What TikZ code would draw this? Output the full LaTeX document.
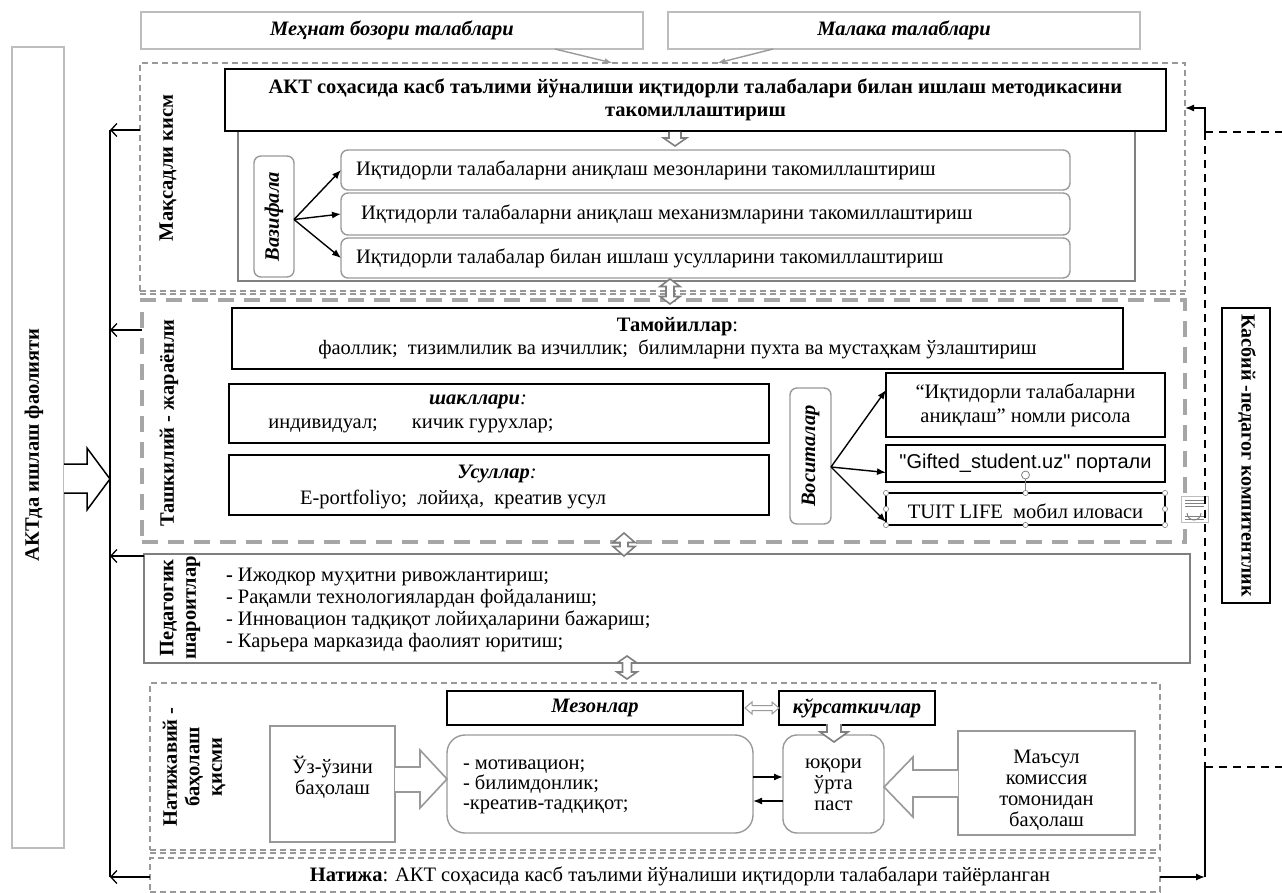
\documentclass[tikz,border=0pt]{standalone}
\usepackage{fontspec}
\setmainfont{Liberation Serif}
\newfontfamily\arialf{Liberation Sans}
\usetikzlibrary{arrows.meta}
\definecolor{lgray}{HTML}{BDBDBD}
\definecolor{mgray}{HTML}{A6A6A6}
\definecolor{dgray}{HTML}{7F7F7F}
\definecolor{hgray}{HTML}{999999}
\begin{document}
\begin{tikzpicture}[x=1pt,y=-1pt,
  every node/.style={inner sep=0pt, outer sep=0pt, font=\fontsize{20.5}{22}\selectfont},
  wh/.style 2 args={minimum width=#1pt, minimum height=#2pt},
  thinbox/.style={draw=lgray, line width=1.5pt},
  blackbox/.style={draw=black, line width=2pt},
  graybox/.style={draw=dgray, line width=1.4pt},
  roundbox/.style={draw=hgray, line width=1.4pt, rounded corners=7pt},
  dashthin/.style={draw=hgray, line width=1.3pt, dash pattern=on 6pt off 4pt},
  dashthick/.style={draw=mgray, line width=4pt, dash pattern=on 16pt off 10pt},
  dashblack/.style={draw=black, line width=1.5pt, dash pattern=on 8pt off 6pt},
  hollow/.style={draw=dgray, line width=1.6pt, fill=white, line join=miter},
  fillarr/.style={-{Latex[length=9pt,width=7pt]}, line width=1.4pt},
  grayarr/.style={-{Latex[length=8pt,width=6pt]}, draw=hgray, line width=1.4pt},
  openarr/.style={-{Straight Barb[length=6pt,width=13pt]}, line width=1.3pt},
  lbl/.style={font=\fontsize{20.5}{22.5}\selectfont\bfseries, rotate=90, align=center},
  bi/.style={font=\fontsize{20.5}{22}\selectfont\bfseries\itshape}
]
\useasboundingbox (0,0) rectangle (1282,893);

% top requirement boxes
\node[thinbox, wh={502}{37}, bi] (mehnat) at (392,30.5) {Меҳнат бозори талаблари};
\node[thinbox, wh={472}{37}, bi] (malaka) at (904,30.5) {Малака талаблари};

% ---------- Maqsadli qism ----------
\node[dashthin, wh={1045}{228}] (maqsad) at (662.5,177) {};
\draw[dashthin] (140,294) -- (1185,294);
\draw[grayarr] ([xshift=163pt]mehnat.south) -- ([xshift=-50pt]maqsad.north);
\draw[grayarr] ([xshift=-131pt]malaka.south) -- ([xshift=55pt]maqsad.north);
\node[lbl] (maqlbl) at (168,168) {Мақсадли кисм};
\node[graybox, wh={897}{150}] (inner) at (686.5,206) {};
\node[blackbox, line width=2.5pt, wh={941}{62}, fill=white, align=center,
      font=\fontsize{20.5}{23}\selectfont\bfseries] (title) at (695.5,100)
  {АКТ соҳасида касб таълими йўналиши иқтидорли талабалари билан ишлаш методикасини\\такомиллаштириш};
\draw[hollow] (669,132) -- (669,138) -- (663.5,138) -- (675,146) -- (686.5,138) -- (681,138) -- (681,132);

\node[roundbox, wh={40}{121}] (vazifa) at (274,216.5) {};
\node[bi, rotate=90] (vazlbl) at (274,216.5) {Вазифала};
\node[roundbox, wh={729}{40}] (taskA) at (705.5,170) {};
\node[roundbox, wh={729}{42}] (taskB) at (705.5,214) {};
\node[roundbox, wh={729}{40}] (taskC) at (705.5,258) {};
\node[anchor=west] (tA) at (356,170) {Иқтидорли талабаларни аниқлаш мезонларини такомиллаштириш};
\node[anchor=west] (tB) at (361,214) {Иқтидорли талабаларни аниқлаш механизмларини такомиллаштириш};
\node[anchor=west] (tC) at (356,258) {Иқтидорли талабалар билан ишлаш усулларини такомиллаштириш};
\draw[fillarr] ([yshift=-3pt]vazifa.east) -- (taskA.west);
\draw[fillarr] ([yshift=-3pt]vazifa.east) -- (taskB.west);
\draw[fillarr] ([yshift=-3pt]vazifa.east) -- (taskC.west);

% ---------- Tashkiliy ----------
\node[dashthick, wh={1043}{242}] (tashkil) at (663.5,421) {};
\draw[hollow] (670,279) -- (680,286.5) -- (674,286.5) -- (674,296.5) -- (680,296.5) -- (670,304) -- (660,296.5) -- (666,296.5) -- (666,286.5) -- (660,286.5) -- cycle;
\node[lbl] (tashlbl) at (169,423) {Ташкилий - жараёнли};
\node[blackbox, wh={891}{61}, align=center, font=\fontsize{20.5}{23}\selectfont] (tamoyil) at (677.5,338.5)
  {\textbf{Тамойиллар}:\\фаоллик;\ \ тизимлилик ва изчиллик;\ \ билимларни пухта ва мустаҳкам ўзлаштириш};
\node[blackbox, wh={540}{59}] (shakl) at (499,413.5) {};
\node (shak1) at (478,402) {\textbf{\itshape шакллари}\textit{:}};
\node (shak2) at (411,426) {индивидуал;\hspace{34pt}кичик гурухлар;};
\node[blackbox, wh={540}{60}] (usul) at (499,485) {};
\node (usul1) at (497,474) {\textbf{\itshape Усуллар}\textit{:}};
\node (usul2) at (453,499) {E-portfoliyo;\ \ лойиҳа,\ \ креатив усул};

\node[roundbox, wh={41}{136}] (vosita) at (810.5,456) {};
\node[bi, rotate=90] (voslbl) at (810.5,456) {Воситалар};
\node[blackbox, wh={279}{64}, align=center, font=\fontsize{20.5}{24}\selectfont] (R1) at (1025.5,405)
  {“Иқтидорли талабаларни\\аниқлаш” номли рисола};
\node[blackbox, wh={279}{37}, font=\fontsize{20}{22}\arialf] (R2) at (1025.5,463.5) {"Gifted\_student.uz" портали};
\node[draw=black, line width=1.2pt, wh={279}{32}] (R3) at (1025.5,509) {};
\node (R3t) at (1025.5,511) {TUIT LIFE\ \ мобил иловаси};
\draw[fillarr] ([yshift=-11pt]vosita.east) -- ([yshift=15pt]R1.west);
\draw[fillarr] ([yshift=-11pt]vosita.east) -- ([yshift=-9pt]R2.west);
\draw[fillarr] ([yshift=-11pt]vosita.east) -- ([yshift=-13pt]R3.west);
% selection handles
\draw[gray, line width=0.6pt] (R3.north) -- ++(0,-14);
\draw[gray, line width=0.8pt, fill=white] ([yshift=18pt]R3.north) circle (4pt);
\foreach \p in {north west, north, north east, east, south east, south, south west, west}
  \draw[gray, line width=0.6pt, fill=white] (R3.\p) circle (2.6pt);
\draw[lgray, line width=0.8pt, fill=white] (1181,496) rectangle (1208,522);
\foreach \yy in {500,503,506,516,519}
  \draw[gray, line width=0.6pt] (1185,\yy) -- (1204,\yy);
\draw[gray, line width=1pt] (1187,513) arc (180:0:7);

% ---------- Pedagogik ----------
\node[graybox, wh={1046}{109}] (pedag) at (667,608.5) {};
\draw[hollow] (624,533) -- (635,542.5) -- (628,542.5) -- (628,546.5) -- (635,546.5) -- (624,556) -- (613,546.5) -- (620,546.5) -- (620,542.5) -- (613,542.5) -- cycle;
\node[lbl] (pedlbl) at (180,608) {Педагогик\\шароитлар};
\node[anchor=west, align=left] (plist) at (226,610)
  {\textbf{-} Ижодкор муҳитни ривожлантириш;\\- Рақамли технологиялардан фойдаланиш;\\- Инновацион тадқиқот лойиҳаларини бажариш;\\- Карьера марказида фаолият юритиш;};

% ---------- Natijaviy ----------
\node[dashthin, wh={1010}{167}] (natv) at (655,766.5) {};
\draw[dashthin] (150,853) -- (1160,853);
\draw[hollow] (627,656) -- (637,663) -- (631.5,663) -- (631.5,672) -- (637,672) -- (627,679) -- (617,672) -- (622.5,672) -- (622.5,663) -- (617,663) -- cycle;
\node[lbl] (natlbl) at (194,767) {Натижавий -\\баҳолаш\\қисми};
\node[blackbox, wh={296}{34}, bi] (mezon) at (595,708) {Мезонлар};
\node[blackbox, wh={156}{34}, bi] (kursat) at (857,708) {кўрсаткичлар};
\draw[draw=hgray, line width=1pt, fill=white] (745,708) -- (752,702) -- (752,705.5) -- (772,705.5) -- (772,702) -- (779,708) -- (772,714) -- (772,710.5) -- (752,710.5) -- (752,714) -- cycle;
\node[draw=hgray, line width=1.4pt, wh={125}{116}] (uz) at (332.5,784) {};
\node[align=center, font=\fontsize{20.5}{21}\selectfont] (uzt) at (332.5,777) {Ўз-ўзини\\баҳолаш};
\node[roundbox, rounded corners=18pt, wh={306}{98}] (content) at (600,784) {};
\node[anchor=west, align=left, font=\fontsize{20.5}{20}\selectfont] (contt) at (463,787)
  {- мотивацион;\\- билимдонлик;\\-креатив-тадқиқот;};
\node[roundbox, rounded corners=14pt, wh={101}{98}] (yuqori) at (833.5,784) {};
\node[align=center, font=\fontsize{20.5}{21}\selectfont] (yuqt) at (833.5,785) {юқори\\ўрта\\паст};
\node[draw=hgray, line width=1.4pt, wh={177}{104}] (masul) at (1046.5,783) {};
\node[align=center, font=\fontsize{20.5}{21}\selectfont] (mast) at (1046.5,790) {Маъсул\\комиссия\\томонидан\\баҳолаш};
\draw[fillarr] ([yshift=7pt]content.east) -- ([yshift=7pt]yuqori.west);
\draw[fillarr] ([yshift=-17pt]yuqori.west) -- ([yshift=-17pt]content.east);
\draw[hollow] (827,724) -- (827,732) -- (820,732) -- (834,742) -- (848,732) -- (841,732) -- (841,724);
\draw[hollow, draw=hgray] (395,767) -- (420,767) -- (420,750) -- (447,779) -- (420,808) -- (420,792) -- (395,792);
\draw[hollow, draw=hgray] (958,770) -- (913,770) -- (913,757) -- (884,787) -- (913,817) -- (913,797) -- (958,797);

% ---------- Natija ----------
\node[dashthin, wh={1010}{34}] (natija) at (655,875) {};
\node (natt) at (680,876) {\textbf{Натижа}: АКТ соҳасида касб таълими йўналиши иқтидорли талабалари тайёрланган};

% ---------- left side ----------
\node[thinbox, wh={52}{801}] (akt) at (38,447.5) {};
\node[lbl] (aktlbl) at (34,445) {АКТда ишлаш фаолияти};
\coordinate (Ltop) at (110,130);
\coordinate (L2) at (110,330);
\coordinate (L3) at (110,556);
\coordinate (Lbot) at (110,877);
\draw[line width=1.4pt] (Ltop) -- (Lbot);
\draw[openarr] (maqsad.west |- Ltop) -- (Ltop);
\draw[openarr] (tashkil.west |- L2) -- (L2);
\draw[openarr] (pedag.west |- L3) -- (L3);
\draw[openarr] (natija.west |- Lbot) -- (Lbot);
\draw[hollow, draw=black, line width=1.5pt] (64,464) -- (87,464) -- (87,448) -- (110,479) -- (87,510) -- (87,493) -- (64,493);

% ---------- right side ----------
\node[blackbox, line width=2.5pt, wh={48}{295}] (kasbiy) at (1246,455.5) {};
\node[font=\fontsize{20}{22}\selectfont\bfseries, rotate=-90] (kaslbl) at (1247,455.5) {Касбий -педагог компитентлик};
\coordinate (Rtop) at (1205,108);
\coordinate (Rmid) at (1205,132);
\coordinate (Rlow) at (1205,767);
\coordinate (Rbot) at (1205,877);
\coordinate (Redge1) at (1282,132);
\coordinate (Redge2) at (1282,767);
\draw[dashblack] (Rmid) -- (Rlow);
\draw[dashblack] (Rmid) -- (Redge1);
\draw[dashblack] (Rlow) -- (Redge2);
\draw[fillarr] (Rmid) -- (Rtop) -- (maqsad.east |- Rtop);
\draw[line width=1.6pt] (Rlow) -- (Rbot);
\draw[fillarr] (natija.east |- Rbot) -- (Rbot);
\end{tikzpicture}
\end{document}
